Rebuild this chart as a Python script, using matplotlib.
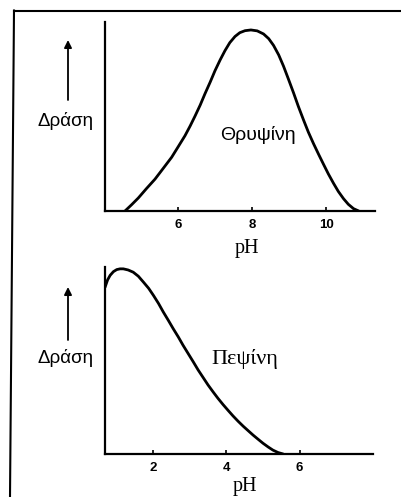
import matplotlib.pyplot as plt
from matplotlib.lines import Line2D

# Trypsin activity vs pH (relative, peak = 1)
trypsin_ph = [4.57, 4.75, 4.93, 5.15, 5.38, 5.6, 5.83, 6.0, 6.19, 6.33, 6.46, 6.6, 6.73,
              6.87, 7.0, 7.14, 7.27, 7.4, 7.54, 7.67, 7.81, 7.97, 8.14, 8.31, 8.45, 8.58,
              8.72, 8.85, 8.98, 9.12, 9.25, 9.39, 9.52, 9.66, 9.8, 9.93, 10.06, 10.2,
              10.33, 10.47, 10.6, 10.74, 10.88]
trypsin_activity = [0.0, 0.035, 0.072, 0.124, 0.176, 0.235, 0.297, 0.353, 0.416, 0.47, 0.524,
                    0.585, 0.648, 0.712, 0.775, 0.835, 0.886, 0.93, 0.964, 0.985, 0.996, 1.0,
                    0.995, 0.978, 0.952, 0.915, 0.862, 0.80, 0.73, 0.653, 0.578, 0.503,
                    0.436, 0.372, 0.312, 0.258, 0.205, 0.153, 0.108, 0.068, 0.037, 0.013, 0.0]

# Pepsin activity vs pH
pepsin_ph = [0.69, 0.76, 0.83, 0.92, 1.01, 1.1, 1.19, 1.32, 1.46, 1.6, 1.74, 1.88, 2.01,
             2.15, 2.28, 2.42, 2.55, 2.69, 2.82, 2.96, 3.10, 3.23, 3.37, 3.5, 3.64, 3.77,
             3.91, 4.05, 4.18, 4.32, 4.46, 4.6, 4.73, 4.87, 5.0, 5.14, 5.27, 5.41, 5.55]
pepsin_activity = [0.90, 0.94, 0.965, 0.985, 0.996, 1.0, 1.0, 0.994, 0.982, 0.96, 0.928,
                   0.895, 0.857, 0.813, 0.767, 0.721, 0.677, 0.632, 0.587, 0.542, 0.497,
                   0.454, 0.412, 0.373, 0.335, 0.301, 0.267, 0.235, 0.206, 0.177, 0.150,
                   0.125, 0.102, 0.079, 0.058, 0.038, 0.021, 0.008, 0.0]

trypsin_ticks = [6, 8, 10]
pepsin_ticks = [2, 4, 6]

W, H = 402, 497
fig = plt.figure(figsize=(W / 100, H / 100), dpi=100)


def px(x, y):
    # pixel position -> figure fraction
    return x / W, 1 - y / H


def panel(rect, ph, act, ticks, xlim, ylim, name, name_xy, name_font, name_size, label_xy):
    ax = fig.add_axes(rect)
    ax.plot(ph, act, color='black', lw=2.0, solid_capstyle='round', solid_joinstyle='round')
    ax.set_xlim(*xlim)
    ax.set_ylim(*ylim)
    for s in ['top', 'right']:
        ax.spines[s].set_visible(False)
    for s in ['left', 'bottom']:
        ax.spines[s].set_linewidth(1.6)
    ax.set_yticks([])
    ax.set_xticks(ticks)
    ax.set_xticklabels([str(t) for t in ticks], fontfamily='Liberation Sans',
                       fontweight='bold', fontsize=9.5)
    ax.tick_params(axis='x', direction='in', length=3, width=1.2, pad=6)
    ax.set_xlabel('pH', fontfamily='Liberation Serif', fontsize=14.5)
    ax.xaxis.label.set_verticalalignment('center')
    ax.xaxis.set_label_coords(*label_xy)
    ax.text(name_xy[0], name_xy[1], name, ha='center', va='center',
            fontfamily=name_font, fontsize=name_size)
    return ax


panel([105 / W, 1 - 211 / H, 270 / W, 189 / H], trypsin_ph, trypsin_activity,
      trypsin_ticks, (4.03, 11.32), (0, 1.044), 'Θρυψίνη', (8.16, 0.42),
      'Liberation Sans', 14, (0.526, -0.196))
panel([105 / W, 1 - 454 / H, 268 / W, 187 / H], pepsin_ph, pepsin_activity,
      pepsin_ticks, (0.69, 8.0), (0, 1.01), 'Πεψίνη', (4.5, 0.515),
      'Liberation Serif', 16, (0.522, -0.172))

# y-axis captions with upward arrows
for label_y, arrow_bottom, arrow_top in [(121, 100, 40), (358, 340, 287)]:
    fig.text(*px(66, label_y), 'Δράση', ha='center', va='center',
             fontfamily='Liberation Sans', fontsize=13.5)
    fig.add_artist(plt.Annotation('', xy=px(68, arrow_top), xytext=px(68, arrow_bottom),
                                  xycoords='figure fraction', textcoords='figure fraction',
                                  arrowprops=dict(arrowstyle='-|>', color='black', lw=1.3,
                                                  mutation_scale=11, shrinkA=0, shrinkB=0)))

# frame lines along the top and left edge
fig.add_artist(Line2D([14 / W, 1], [1 - 10.5 / H, 1 - 10.5 / H], color='black', lw=1.5,
                      transform=fig.transFigure))
fig.add_artist(Line2D([14 / W, 10 / W], [1 - 10.5 / H, 0], color='black', lw=1.5,
                      transform=fig.transFigure))

fig.savefig('out.png', dpi=100)
